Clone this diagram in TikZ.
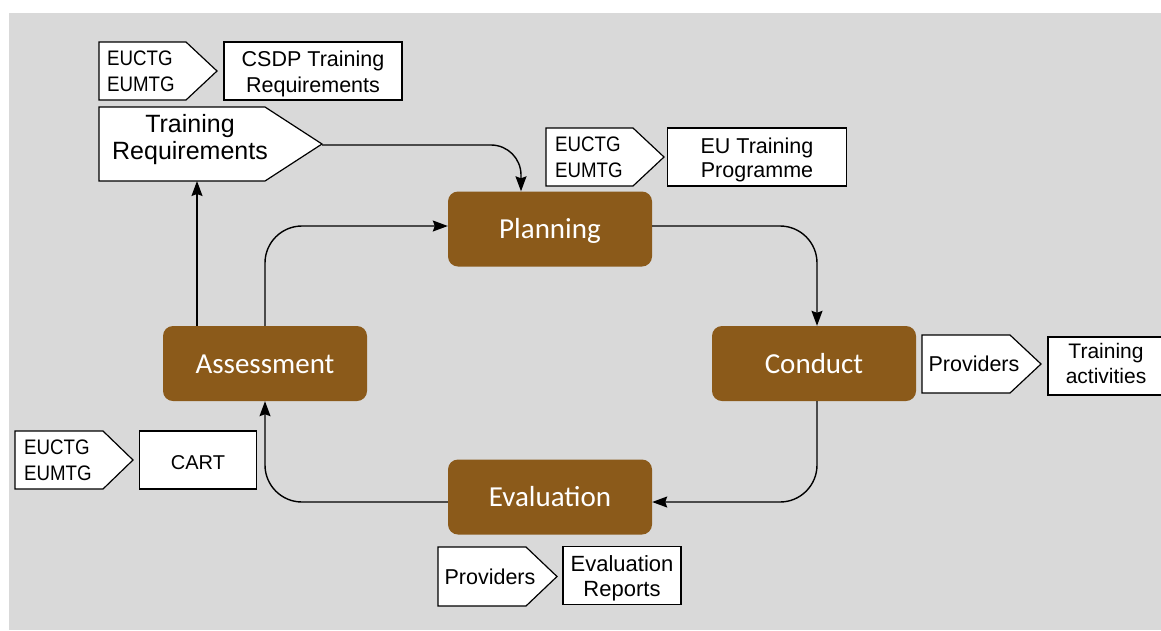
\documentclass[tikz,border=0pt]{standalone}
\usepackage{fontspec}
\setmainfont{Liberation Sans}
\newfontfamily\calfont{Carlito}
\newfontfamily\narrowfont[FakeStretch=0.89]{Liberation Sans}
\usetikzlibrary{arrows.meta}
\definecolor{bggrey}{HTML}{D9D9D9}
\definecolor{brownbox}{RGB}{139,90,26}
\newcommand\pentshape[5]{%
  \filldraw[pentline] (#1,#2) -- (#3,#2) -- (#5,{(#2+#4)/2}) -- (#3,#4) -- (#1,#4) -- cycle;}
\begin{document}
\begin{tikzpicture}[x=1pt,y=-1pt,
  stage/.style={fill=brownbox, rounded corners=10pt, minimum width=204pt, minimum height=75pt,
    text=white, font=\calfont\fontsize{29}{34}\selectfont, inner sep=0,
    text height=19.8pt, text depth=0pt},
  outbox/.style={draw=black, fill=white, line width=1.2pt, inner sep=0, align=center,
    text depth=0pt},
  srctext/.style={inner sep=0, align=left, font=\narrowfont\fontsize{21}{25.3}\selectfont,
    text height=40pt, text depth=0pt},
  pentline/.style={draw=black, fill=white, line width=1.2pt, line join=miter},
  flow/.style={line width=1.4pt, -{Stealth[length=15pt,width=11pt,inset=2pt]}}
]
\useasboundingbox (0,0) rectangle (1161,630);
\fill[white] (0,0) rectangle (1161,630);
\fill[bggrey] (9,13) rectangle (1161,630);

% top-left inputs
\pentshape{99}{42}{186}{100}{217}
\node[srctext, anchor=west] (src1) at (107,71) {EUCTG\\EUMTG};
\node[outbox, minimum width=178pt, minimum height=58pt, font=\fontsize{21.5}{26}\selectfont,
  text height=43.4pt] (csdp) at (313,71) {CSDP Training\\Requirements};

\pentshape{99}{107}{265}{181}{322}
\node[inner sep=0, align=center, font=\fontsize{25}{26.7}\selectfont,
  text height=30.6pt, text depth=0pt] (treq) at (190,144) {Training\\Requirements};
\coordinate (treqtip) at (322,145);
\coordinate (treqbase) at (197,181);

% top-right inputs
\pentshape{546}{128}{633}{186}{664}
\node[srctext, anchor=west] (src2) at (555,157) {EUCTG\\EUMTG};
\node[outbox, minimum width=179pt, minimum height=58pt, font=\fontsize{21.5}{24}\selectfont,
  text height=40pt] (eutp) at (757,157) {EU Training\\Programme};

% stages
\node[stage] (plan) at (550,229) {Planning};
\node[stage] (cond) at (814,363.5) {Conduct};
\node[stage] (assess) at (265,363.5) {Assessment};
\node[stage] (eval) at (550,497) {Evaluation};

% right outputs
\pentshape{922}{335}{1010}{393}{1041}
\node[inner sep=0, font=\fontsize{21.5}{26}\selectfont, text height=14pt, text depth=0pt]
  (prov1) at (974,364) {Providers};
\node[outbox, minimum width=116pt, minimum height=58pt, font=\fontsize{21}{25}\selectfont,
  text height=34.6pt] (tact) at (1106,366) {Training\\activities};

% left
\pentshape{15}{431}{103}{489}{133}
\node[srctext, anchor=west] (src3) at (24,460) {EUCTG\\EUMTG};
\node[outbox, minimum width=117pt, minimum height=58pt, font=\fontsize{20}{24}\selectfont,
  text height=18pt] (cart) at (198,460) {CART};

% bottom
\pentshape{438}{547}{526}{606}{557}
\node[inner sep=0, font=\fontsize{21.5}{26}\selectfont, text height=16pt, text depth=0pt]
  (prov2) at (490,576.3) {Providers};
\node[outbox, minimum width=118pt, minimum height=58pt, font=\fontsize{22}{25.7}\selectfont,
  text height=42pt] (erep) at (622,575.7) {Evaluation\\Reports};

% connectors
\coordinate (planin) at ([xshift=-29pt]plan.north);
\draw[flow, rounded corners=30pt] (treqtip) -- (planin |- treqtip) -- (planin);

\coordinate (planout) at ([yshift=3pt]plan.east);
\coordinate (condin) at ([xshift=3pt]cond.north);
\draw[flow, rounded corners=37pt] (planout) -- (condin |- planout) -- (condin);

\coordinate (condout) at ([xshift=3pt]cond.south);
\coordinate (evalin) at ([yshift=-5pt]eval.east);
\draw[flow, rounded corners=37pt] (condout) -- (condout |- evalin) -- (evalin);

\coordinate (evalout) at ([yshift=-5pt]eval.west);
\draw[flow, rounded corners=37pt] (evalout) -- (assess.south |- evalout) -- (assess.south);

\coordinate (planin2) at ([yshift=3pt]plan.west);
\draw[flow, rounded corners=37pt] (assess.north) -- (assess.north |- planin2) -- (planin2);

\coordinate (assessup) at ([xshift=-68pt]assess.north);
\draw[flow] (assessup) -- (treqbase);
\end{tikzpicture}
\end{document}
